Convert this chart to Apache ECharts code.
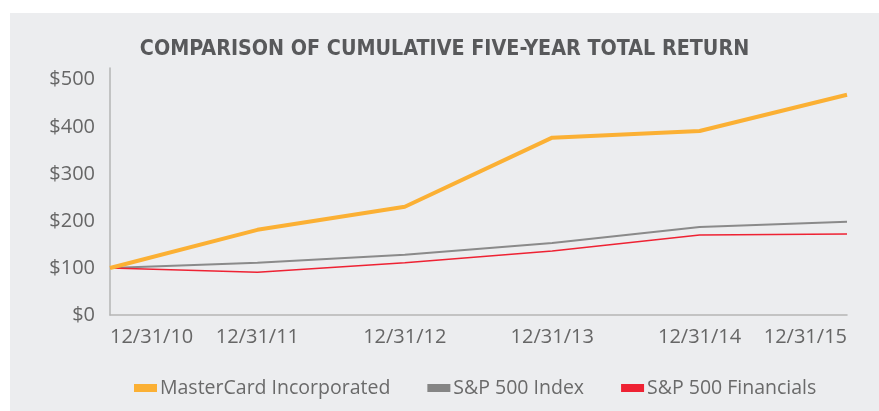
<!DOCTYPE html>
<html>
<head>
<meta charset="utf-8">
<script src="https://cdn.jsdelivr.net/npm/echarts@6/dist/echarts.min.js"></script>
<style>
  html, body { margin: 0; padding: 0; background: #ffffff; }
  #panel { position: absolute; left: 10px; top: 13px; width: 869px; height: 398px; background: #ecedef; }
  #chart { width: 869px; height: 398px; }
</style>
</head>
<body>
<div id="panel"><div id="chart"></div></div>
<script>
// 5-year cumulative total return, $100 invested 12/31/10
var dates = ['12/31/10', '12/31/11', '12/31/12', '12/31/13', '12/31/14', '12/31/15'];
var masterCard = [100, 181, 230, 377, 391, 468];
var sp500 = [100, 111, 128, 153, 187, 198];
var sp500Financials = [100, 91, 111, 136, 170, 172];

var chart = echarts.init(document.getElementById('chart'));
var labelFont = '"Open Sans", "DejaVu Sans", sans-serif';

var option = {
    animation: false,
    title: {
        text: 'COMPARISON OF CUMULATIVE FIVE-YEAR TOTAL RETURN',
        left: 'center',
        top: 21,
        textStyle: {
            fontFamily: '"DejaVu Sans Condensed", "DejaVu Sans", sans-serif',
            fontWeight: 'bold',
            fontSize: 21.3,
            color: '#58595b'
        }
    },
    legend: {
        top: 360,
        left: 119,
        icon: 'rect',
        itemWidth: 23,
        itemHeight: 8,
        itemGap: 37,
        itemStyle: { borderWidth: 0 },
        textStyle: { fontFamily: labelFont, fontSize: 19.5, color: '#6a6a6a', padding: [0, 0, 0, -2] },
        data: ['MasterCard Incorporated', 'S&P 500 Index', 'S&P 500 Financials']
    },
    grid: { left: 100, right: 32, top: 55, bottom: 96 },
    xAxis: {
        type: 'category',
        boundaryGap: false,
        data: dates,
        axisLine: { lineStyle: { color: '#b5b5b5', width: 1.5 } },
        axisTick: { show: false },
        axisLabel: {
            fontFamily: labelFont, fontSize: 20, color: '#666666', margin: 12,
            alignMinLabel: 'left', alignMaxLabel: 'right'
        }
    },
    yAxis: {
        type: 'value',
        min: 0,
        max: 525,
        interval: 100,
        axisLine: { show: true, lineStyle: { color: '#b5b5b5', width: 1.5 } },
        axisTick: { show: false },
        splitLine: { show: false },
        axisLabel: {
            fontFamily: labelFont, fontSize: 20, color: '#666666', margin: 15,
            showMaxLabel: false,
            formatter: function (v) { return '$' + v; }
        }
    },
    series: [
        {
            name: 'MasterCard Incorporated', type: 'line', data: masterCard,
            symbol: 'none', color: '#fbb034', z: 3,
            lineStyle: { width: 4, color: '#fbb034' }
        },
        {
            name: 'S&P 500 Index', type: 'line', data: sp500,
            symbol: 'none', color: '#858585', z: 2,
            lineStyle: { width: 2, color: '#8a8a8a' }
        },
        {
            name: 'S&P 500 Financials', type: 'line', data: sp500Financials,
            symbol: 'none', color: '#ee2233', z: 2,
            lineStyle: { width: 1.5, color: '#ee2233' }
        }
    ]
};
chart.setOption(option);
</script>
</body>
</html>
